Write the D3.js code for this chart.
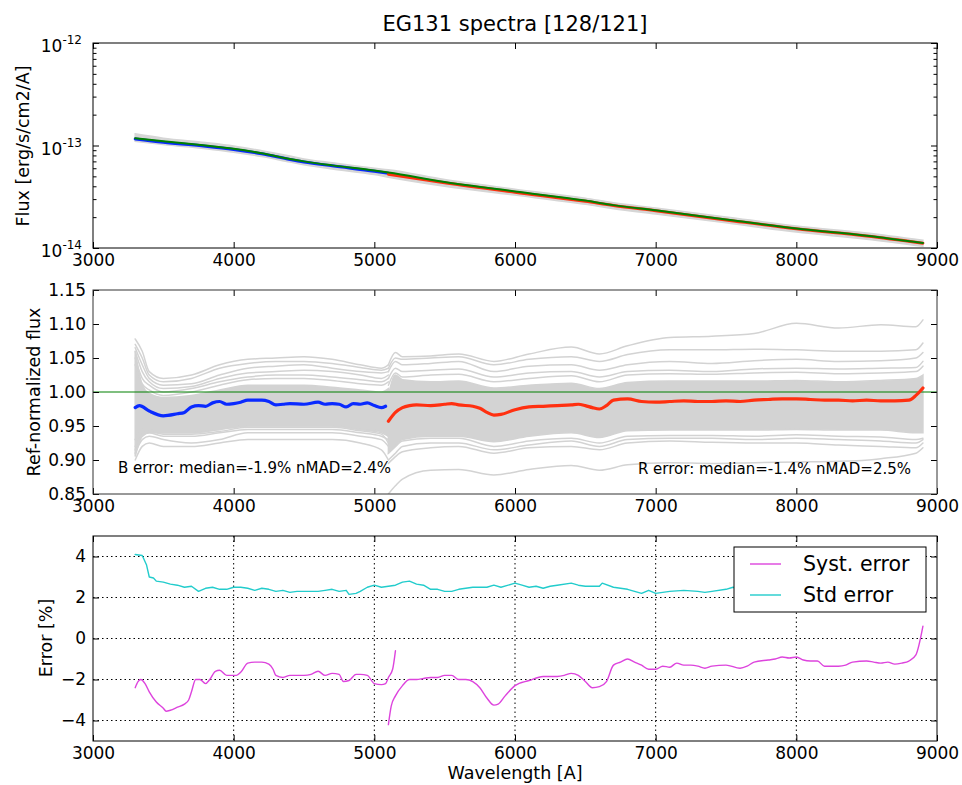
<!DOCTYPE html>
<html>
<head>
<meta charset="utf-8">
<script src="https://cdn.jsdelivr.net/npm/d3@7"></script>
<style>
body { margin: 0; background: #fff; }
svg { font-family: "DejaVu Sans", sans-serif; }
</style>
</head>
<body>
<div id="chart"></div>
<script>
// ---- data ----
var xTicks = [3000, 4000, 5000, 6000, 7000, 8000, 9000];
var fluxTicks = [1e-14, 1e-13, 1e-12];
var fluxExp = ['-14', '-13', '-12'];
var ratioTicks = [0.85, 0.90, 0.95, 1.00, 1.05, 1.10, 1.15];
var errTicks = [-4, -2, 0, 2, 4];

// top panel: reference spectrum and spread of the individual spectra (erg/s/cm2/A)
var refWave = [3300, 3500, 3800, 4000, 4200, 4400, 4500, 4700, 5000, 5100, 5500, 6000, 6500, 6700, 7000, 7500, 8000, 8500, 8900];
var refFlux = [11.8e-14, 11.0e-14, 10.0e-14, 9.3e-14, 8.4e-14, 7.4e-14, 7.0e-14, 6.4e-14, 5.7e-14, 5.45e-14, 4.4e-14, 3.56e-14, 2.9e-14, 2.62e-14, 2.33e-14, 1.9e-14, 1.55e-14, 1.32e-14, 1.12e-14];
var bandLo = [11.0e-14, 10.2e-14, 9.3e-14, 8.6e-14, 7.8e-14, 6.9e-14, 6.5e-14, 5.9e-14, 5.2e-14, 4.9e-14, 4.0e-14, 3.28e-14, 2.67e-14, 2.42e-14, 2.15e-14, 1.76e-14, 1.43e-14, 1.22e-14, 1.04e-14];
var bandHi = [13.0e-14, 11.8e-14, 10.7e-14, 9.9e-14, 8.9e-14, 7.9e-14, 7.4e-14, 6.8e-14, 6.0e-14, 5.8e-14, 4.65e-14, 3.75e-14, 3.06e-14, 2.76e-14, 2.46e-14, 2.01e-14, 1.64e-14, 1.40e-14, 1.19e-14];
var blueWave = [3300, 3500, 3800, 4000, 4200, 4400, 4500, 4700, 5000, 5100];
var blueFlux = [11.6e-14, 10.75e-14, 9.85e-14, 9.15e-14, 8.3e-14, 7.3e-14, 6.9e-14, 6.33e-14, 5.62e-14, 5.37e-14];
var redWave = [5100, 5500, 6000, 6500, 6700, 7000, 7500, 8000, 8500, 8900];
var redFlux = [5.25e-14, 4.33e-14, 3.5e-14, 2.86e-14, 2.6e-14, 2.31e-14, 1.88e-14, 1.54e-14, 1.31e-14, 1.115e-14];

// middle panel: median ratios
var medBWave = [3300, 3330, 3400, 3500, 3600, 3650, 3700, 3750, 3800, 3850, 3900, 3950, 4000, 4050, 4100, 4200, 4250, 4300, 4350, 4400, 4500, 4600, 4650, 4700, 4750, 4800, 4850, 4900, 4950, 5000, 5050, 5080];
var medB = [0.977, 0.980, 0.972, 0.965, 0.968, 0.970, 0.978, 0.980, 0.979, 0.984, 0.986, 0.982, 0.983, 0.985, 0.988, 0.988, 0.986, 0.981, 0.982, 0.983, 0.982, 0.985, 0.982, 0.983, 0.982, 0.978, 0.983, 0.982, 0.984, 0.980, 0.977, 0.979];
var medRWave = [5100, 5150, 5200, 5250, 5300, 5400, 5500, 5550, 5600, 5700, 5750, 5800, 5850, 5900, 6000, 6100, 6200, 6300, 6400, 6450, 6500, 6550, 6600, 6650, 6700, 6800, 6900, 7000, 7100, 7200, 7300, 7400, 7500, 7600, 7700, 7800, 7900, 8000, 8100, 8200, 8300, 8400, 8500, 8600, 8700, 8800, 8850, 8900];
var medR = [0.957, 0.970, 0.977, 0.980, 0.981, 0.980, 0.982, 0.983, 0.981, 0.979, 0.976, 0.970, 0.966, 0.967, 0.974, 0.978, 0.979, 0.980, 0.981, 0.982, 0.980, 0.977, 0.975, 0.980, 0.988, 0.990, 0.986, 0.985, 0.986, 0.987, 0.986, 0.986, 0.987, 0.986, 0.988, 0.989, 0.990, 0.990, 0.989, 0.988, 0.988, 0.987, 0.988, 0.987, 0.987, 0.988, 0.995, 1.006];

// middle panel: individual spectra (grey), B and R arms
var gridB = [3300, 3350, 3400, 3500, 3700, 3900, 4100, 4300, 4500, 4700, 4900, 5050, 5100];
var coreBLo = [0.905, 0.935, 0.940, 0.940, 0.940, 0.945, 0.950, 0.950, 0.950, 0.950, 0.945, 0.942, 0.935];
var coreBHi = [1.060, 1.010, 0.998, 0.992, 0.995, 1.003, 1.010, 1.010, 1.010, 1.007, 1.003, 1.000, 1.005];
var greyB = [
  [1.078, 1.060, 1.030, 1.020, 1.025, 1.040, 1.048, 1.050, 1.052, 1.048, 1.040, 1.035, 1.040],
  [1.070, 1.050, 1.025, 1.015, 1.020, 1.035, 1.042, 1.045, 1.045, 1.042, 1.036, 1.032, 1.035],
  [1.065, 1.040, 1.020, 1.010, 1.012, 1.025, 1.035, 1.038, 1.040, 1.035, 1.030, 1.028, 1.030],
  [1.060, 1.030, 1.015, 1.005, 1.008, 1.020, 1.028, 1.030, 1.032, 1.030, 1.025, 1.020, 1.025],
  [1.050, 1.020, 1.010, 1.000, 1.005, 1.015, 1.022, 1.025, 1.025, 1.022, 1.018, 1.015, 1.020],
  [1.040, 1.012, 1.003, 0.995, 1.000, 1.010, 1.018, 1.020, 1.020, 1.017, 1.012, 1.010, 1.015],
  [0.900, 0.920, 0.925, 0.920, 0.920, 0.925, 0.930, 0.930, 0.930, 0.930, 0.925, 0.915, 0.900],
  [0.910, 0.930, 0.935, 0.930, 0.925, 0.930, 0.940, 0.940, 0.940, 0.940, 0.935, 0.930, 0.920],
  [0.915, 0.938, 0.942, 0.938, 0.938, 0.942, 0.948, 0.948, 0.948, 0.948, 0.943, 0.938, 0.925],
  [0.920, 0.935, 0.940, 0.935, 0.935, 0.940, 0.945, 0.945, 0.945, 0.945, 0.940, 0.935, 0.930],
  [0.930, 0.945, 0.945, 0.940, 0.940, 0.945, 0.950, 0.950, 0.950, 0.950, 0.945, 0.940, 0.935]
];
var gridR = [5100, 5150, 5200, 5400, 5600, 5850, 6100, 6400, 6600, 6800, 7100, 7400, 7700, 8000, 8300, 8600, 8850, 8900];
var coreRLo = [0.910, 0.920, 0.930, 0.935, 0.935, 0.927, 0.935, 0.940, 0.933, 0.943, 0.944, 0.944, 0.944, 0.945, 0.944, 0.944, 0.940, 0.940];
var coreRHi = [0.995, 1.025, 1.018, 1.015, 1.016, 1.006, 1.010, 1.013, 1.005, 1.014, 1.016, 1.016, 1.016, 1.017, 1.015, 1.017, 1.020, 1.025];
var greyR = [
  [1.040, 1.058, 1.052, 1.053, 1.056, 1.045, 1.056, 1.066, 1.056, 1.068, 1.080, 1.082, 1.086, 1.101, 1.094, 1.099, 1.096, 1.106],
  [1.035, 1.050, 1.048, 1.050, 1.052, 1.040, 1.048, 1.052, 1.045, 1.055, 1.062, 1.062, 1.063, 1.062, 1.060, 1.060, 1.062, 1.072],
  [1.030, 1.045, 1.040, 1.042, 1.045, 1.030, 1.038, 1.040, 1.032, 1.040, 1.045, 1.042, 1.046, 1.048, 1.045, 1.046, 1.050, 1.058],
  [1.020, 1.035, 1.030, 1.032, 1.034, 1.022, 1.028, 1.030, 1.022, 1.030, 1.032, 1.030, 1.034, 1.035, 1.034, 1.035, 1.036, 1.045],
  [1.010, 1.028, 1.022, 1.025, 1.026, 1.015, 1.020, 1.024, 1.015, 1.025, 1.027, 1.026, 1.028, 1.029, 1.027, 1.028, 1.030, 1.038],
  [0.910, 0.920, 0.928, 0.932, 0.932, 0.920, 0.928, 0.932, 0.925, 0.935, 0.936, 0.936, 0.935, 0.937, 0.935, 0.934, 0.930, 0.932],
  [0.900, 0.910, 0.920, 0.925, 0.925, 0.915, 0.922, 0.928, 0.920, 0.930, 0.932, 0.932, 0.930, 0.932, 0.930, 0.928, 0.925, 0.930],
  [0.895, 0.905, 0.912, 0.918, 0.920, 0.910, 0.918, 0.920, 0.915, 0.925, 0.928, 0.926, 0.925, 0.925, 0.922, 0.920, 0.918, 0.925],
  [0.850, 0.862, 0.872, 0.885, 0.886, 0.878, 0.886, 0.892, 0.885, 0.893, 0.896, 0.895, 0.896, 0.897, 0.898, 0.902, 0.910, 0.918]
];

// bottom panel: errors in %
var stdWave = [3300, 3350, 3380, 3400, 3430, 3450, 3500, 3550, 3600, 3650, 3700, 3750, 3800, 3850, 3900, 3950, 4000, 4050, 4100, 4150, 4200, 4250, 4300, 4350, 4400, 4450, 4500, 4550, 4600, 4650, 4700, 4750, 4800, 4820, 4870, 4900, 4950, 5000, 5050, 5100, 5150, 5200, 5250, 5300, 5350, 5400, 5450, 5500, 5550, 5600, 5700, 5800, 5850, 5900, 6000, 6050, 6100, 6150, 6200, 6250, 6300, 6400, 6450, 6500, 6600, 6620, 6700, 6800, 6900, 6950, 7000, 7100, 7200, 7300, 7350, 7400, 7500, 7550, 7600, 7700, 7800, 7900, 8000, 8100, 8200, 8300, 8400, 8500, 8600, 8700, 8800, 8900];
var stdErr = [4.1, 4.05, 3.6, 3.0, 2.95, 2.8, 2.75, 2.65, 2.6, 2.5, 2.55, 2.3, 2.45, 2.5, 2.4, 2.4, 2.5, 2.5, 2.45, 2.35, 2.45, 2.4, 2.3, 2.35, 2.25, 2.3, 2.3, 2.3, 2.3, 2.35, 2.4, 2.3, 2.35, 2.15, 2.2, 2.3, 2.5, 2.6, 2.5, 2.55, 2.6, 2.75, 2.8, 2.65, 2.6, 2.4, 2.4, 2.3, 2.3, 2.4, 2.5, 2.5, 2.6, 2.5, 2.7, 2.6, 2.5, 2.55, 2.45, 2.55, 2.6, 2.7, 2.6, 2.55, 2.55, 2.7, 2.5, 2.4, 2.2, 2.35, 2.2, 2.3, 2.35, 2.3, 2.25, 2.3, 2.4, 2.5, 2.4, 2.5, 2.45, 2.5, 2.55, 2.45, 2.5, 2.4, 2.45, 2.5, 2.45, 2.5, 2.55, 2.7];
var systWaveB = [3300, 3320, 3340, 3370, 3400, 3450, 3500, 3520, 3550, 3600, 3650, 3680, 3700, 3730, 3760, 3800, 3830, 3870, 3900, 3950, 4000, 4020, 4050, 4100, 4150, 4200, 4250, 4280, 4300, 4350, 4400, 4500, 4550, 4600, 4650, 4700, 4750, 4780, 4820, 4870, 4900, 4950, 5000, 5050, 5080, 5100, 5130, 5150];
var systErrB = [-2.4, -2.1, -2.0, -2.2, -2.6, -3.1, -3.4, -3.55, -3.5, -3.35, -3.2, -3.0, -2.6, -2.0, -2.0, -2.2, -2.0, -1.6, -1.55, -1.8, -1.8, -1.8, -1.65, -1.2, -1.15, -1.15, -1.25, -1.5, -1.8, -1.9, -1.8, -1.8, -1.75, -1.6, -1.8, -1.7, -1.75, -2.1, -2.05, -1.75, -1.75, -1.8, -2.2, -2.25, -2.2, -1.9, -1.5, -0.6];
var systWaveR = [5100, 5120, 5150, 5200, 5250, 5300, 5350, 5400, 5450, 5500, 5550, 5600, 5650, 5700, 5750, 5800, 5850, 5880, 5930, 6000, 6100, 6200, 6250, 6300, 6350, 6400, 6450, 6500, 6550, 6600, 6650, 6700, 6750, 6800, 6850, 6900, 6950, 7000, 7050, 7100, 7150, 7200, 7250, 7300, 7350, 7400, 7500, 7600, 7650, 7700, 7800, 7850, 7900, 7950, 8000, 8050, 8100, 8150, 8200, 8300, 8350, 8400, 8500, 8550, 8600, 8650, 8700, 8750, 8800, 8850, 8900];
var systErrR = [-4.2, -3.3, -2.8, -2.3, -2.0, -2.0, -1.95, -1.9, -1.9, -1.8, -1.8, -2.0, -2.0, -2.1, -2.4, -2.9, -3.25, -3.2, -2.8, -2.3, -2.05, -1.85, -1.85, -1.85, -1.8, -1.7, -1.8, -2.1, -2.4, -2.35, -2.1, -1.3, -1.15, -1.0, -1.15, -1.3, -1.5, -1.5, -1.35, -1.4, -1.2, -1.3, -1.3, -1.35, -1.45, -1.35, -1.3, -1.45, -1.35, -1.15, -1.05, -1.0, -0.9, -0.95, -0.9, -1.05, -1.1, -1.1, -1.35, -1.35, -1.3, -1.15, -1.1, -1.15, -1.2, -1.15, -1.25, -1.2, -1.1, -0.8, 0.6];

var legendNames = ['Syst. error', 'Std error'];
var legendColors = ['#dd44dd', '#22cccc'];

// ---- svg space ----
var fullWidth = 962;
var fullHeight = 785;
var left = 93, right = 937;

var svg = d3.select('#chart')
  .append('svg')
  .attr('width', fullWidth)
  .attr('height', fullHeight);

var x = d3.scaleLinear().domain([3000, 9000]).range([left, right]);
var yFlux = d3.scaleLog().domain([1e-14, 1e-12]).range([248, 43]);
var yRatio = d3.scaleLinear().domain([0.85, 1.15]).range([494, 290]);
var yErr = d3.scaleLinear().domain([-5, 5]).range([741, 536]);

function zip(xs, ys) {
  return xs.map(function(d, i) { return [d, ys[i]]; });
}

function drawLine(g, pts, y, color, width, curve) {
  g.append('path')
    .datum(pts)
    .attr('fill', 'none')
    .attr('stroke', color)
    .attr('stroke-width', width)
    .attr('stroke-linejoin', 'round')
    .attr('stroke-linecap', 'round')
    .attr('d', d3.line()
      .x(function(d) { return x(d[0]); })
      .y(function(d) { return y(d[1]); })
      .curve(curve || d3.curveLinear));
}

function drawBand(g, xs, lo, hi, y, color) {
  g.append('path')
    .datum(xs.map(function(d, i) { return [d, lo[i], hi[i]]; }))
    .attr('fill', color)
    .attr('stroke', color)
    .attr('stroke-width', 1.5)
    .attr('d', d3.area()
      .x(function(d) { return x(d[0]); })
      .y0(function(d) { return y(d[1]); })
      .y1(function(d) { return y(d[2]); })
      .curve(d3.curveMonotoneX));
}

// axes with inward ticks on all four sides, matplotlib classic look
function axes(y, yTickVals, yFmt, frameColor) {
  var top = y.range()[1], bottom = y.range()[0];
  svg.append('g')
    .attr('transform', 'translate(0,' + bottom + ')')
    .call(d3.axisBottom(x).tickValues(xTicks).tickSize(-6).tickPadding(6).tickFormat(d3.format('d')));
  svg.append('g')
    .attr('transform', 'translate(0,' + top + ')')
    .call(d3.axisTop(x).tickValues(xTicks).tickSize(-6).tickFormat(''));
  svg.append('g')
    .attr('transform', 'translate(' + left + ',0)')
    .call(d3.axisLeft(y).tickValues(yTickVals).tickSize(-6).tickPadding(7).tickFormat(yFmt));
  svg.append('g')
    .attr('transform', 'translate(' + right + ',0)')
    .call(d3.axisRight(y).tickValues(yTickVals).tickSize(-6).tickFormat(''));
  svg.selectAll('.domain').remove();
  svg.selectAll('.tick line').attr('stroke', '#000');
  svg.selectAll('.tick text').attr('fill', '#000').style('font-size', '17px').style('font-family', '"DejaVu Sans", sans-serif');
  return function() {
    svg.append('rect')
      .attr('x', left).attr('y', top)
      .attr('width', right - left).attr('height', bottom - top)
      .attr('fill', 'none').attr('stroke', frameColor).attr('stroke-width', 1);
  };
}

function yLabel(text, cx, cy) {
  svg.append('text')
    .attr('transform', 'translate(' + cx + ',' + cy + ') rotate(-90)')
    .attr('text-anchor', 'middle')
    .attr('dy', '0.35em')
    .style('font-size', '17.5px')
    .text(text);
}

// ---- title ----
svg.append('text')
  .attr('x', (left + right) / 2)
  .attr('y', 31)
  .attr('text-anchor', 'middle')
  .style('font-size', '21px')
  .text('EG131 spectra [128/121]');

// ---- top panel: flux ----
var gTop = svg.append('g');
drawBand(gTop, refWave, bandLo, bandHi, yFlux, '#d6d6d6');
drawLine(gTop, zip(blueWave, blueFlux), yFlux, '#0a2aff', 3, d3.curveMonotoneX);
drawLine(gTop, zip(redWave, redFlux), yFlux, '#ff3010', 3, d3.curveMonotoneX);
drawLine(gTop, zip(refWave, refFlux), yFlux, '#008000', 2, d3.curveMonotoneX);
var frameTop = axes(yFlux, fluxTicks, function() { return ''; }, '#000');

// minor log ticks on both sides
var minorVals = [];
[1e-14, 1e-13].forEach(function(dec) {
  for (var k = 2; k <= 9; k++) minorVals.push(k * dec);
});
svg.append('g').attr('transform', 'translate(' + left + ',0)')
  .call(d3.axisLeft(yFlux).tickValues(minorVals).tickSize(-3.5).tickFormat(''));
svg.append('g').attr('transform', 'translate(' + right + ',0)')
  .call(d3.axisRight(yFlux).tickValues(minorVals).tickSize(-3.5).tickFormat(''));
svg.selectAll('.domain').remove();

// power-of-ten labels
fluxTicks.forEach(function(v, i) {
  var t = svg.append('text')
    .attr('x', 82)
    .attr('y', yFlux(v) + 9)
    .attr('text-anchor', 'end');
  t.append('tspan').style('font-size', '17px').text('10');
  t.append('tspan').style('font-size', '12px').attr('dy', -8).text(fluxExp[i]);
});
frameTop();
yLabel('Flux [erg/s/cm2/A]', 23, 146);

// ---- middle panel: ref-normalized flux ----
svg.append('clipPath').attr('id', 'clipMid')
  .append('rect').attr('x', left).attr('y', 290).attr('width', right - left).attr('height', 204);
var gMid = svg.append('g').attr('clip-path', 'url(#clipMid)');
drawBand(gMid, gridB, coreBLo, coreBHi, yRatio, '#d3d3d3');
drawBand(gMid, gridR, coreRLo, coreRHi, yRatio, '#d3d3d3');
greyB.forEach(function(s) { drawLine(gMid, zip(gridB, s), yRatio, '#d3d3d3', 1.5, d3.curveMonotoneX); });
greyR.forEach(function(s) { drawLine(gMid, zip(gridR, s), yRatio, '#d3d3d3', 1.5, d3.curveMonotoneX); });
drawLine(gMid, [[3000, 1], [9000, 1]], yRatio, '#008000', 1.2);
drawLine(gMid, zip(medBWave, medB), yRatio, '#0a2aff', 3.2, d3.curveMonotoneX);
drawLine(gMid, zip(medRWave, medR), yRatio, '#ff3010', 3.2, d3.curveMonotoneX);
var frameMid = axes(yRatio, ratioTicks, d3.format('.2f'), '#333');
frameMid();

svg.append('text')
  .attr('x', 118).attr('y', 473)
  .style('font-size', '15px')
  .text('B error: median=-1.9% nMAD=2.4%');
svg.append('text')
  .attr('x', 911).attr('y', 474)
  .attr('text-anchor', 'end')
  .style('font-size', '15px')
  .text('R error: median=-1.4% nMAD=2.5%');
yLabel('Ref-normalized flux', 34, 392);

// ---- bottom panel: errors ----
var gBot = svg.append('g');
// dotted grid
gBot.selectAll('.vgrid').data(xTicks.slice(1, -1)).enter().append('line')
  .attr('x1', function(d) { return x(d); }).attr('x2', function(d) { return x(d); })
  .attr('y1', 536).attr('y2', 741)
  .attr('stroke', '#000').attr('stroke-width', 1).attr('stroke-dasharray', '1.5,3');
gBot.selectAll('.hgrid').data(errTicks).enter().append('line')
  .attr('x1', left).attr('x2', right)
  .attr('y1', function(d) { return yErr(d); }).attr('y2', function(d) { return yErr(d); })
  .attr('stroke', '#000').attr('stroke-width', 1).attr('stroke-dasharray', '1.5,3');
drawLine(gBot, zip(systWaveB, systErrB), yErr, legendColors[0], 1.4, d3.curveMonotoneX);
drawLine(gBot, zip(systWaveR, systErrR), yErr, legendColors[0], 1.4, d3.curveMonotoneX);
drawLine(gBot, zip(stdWave, stdErr), yErr, legendColors[1], 1.4);
var frameBot = axes(yErr, errTicks, d3.format('d'), '#000');
frameBot();
yLabel('Error [%]', 46, 638);

svg.append('text')
  .attr('x', (left + right) / 2)
  .attr('y', 779)
  .attr('text-anchor', 'middle')
  .style('font-size', '17.5px')
  .text('Wavelength [A]');

// legend
var lg = svg.append('g');
lg.append('rect')
  .attr('x', 734).attr('y', 547).attr('width', 192).attr('height', 65)
  .attr('fill', '#fff').attr('stroke', '#000').attr('stroke-width', 1);
legendNames.forEach(function(name, i) {
  var yy = 564 + i * 31;
  lg.append('line')
    .attr('x1', 750).attr('x2', 781).attr('y1', yy).attr('y2', yy)
    .attr('stroke', legendColors[i]).attr('stroke-width', 1.4);
  lg.append('text')
    .attr('x', 803).attr('y', yy + 7)
    .style('font-size', '20.5px')
    .text(name);
});
</script>
</body>
</html>
